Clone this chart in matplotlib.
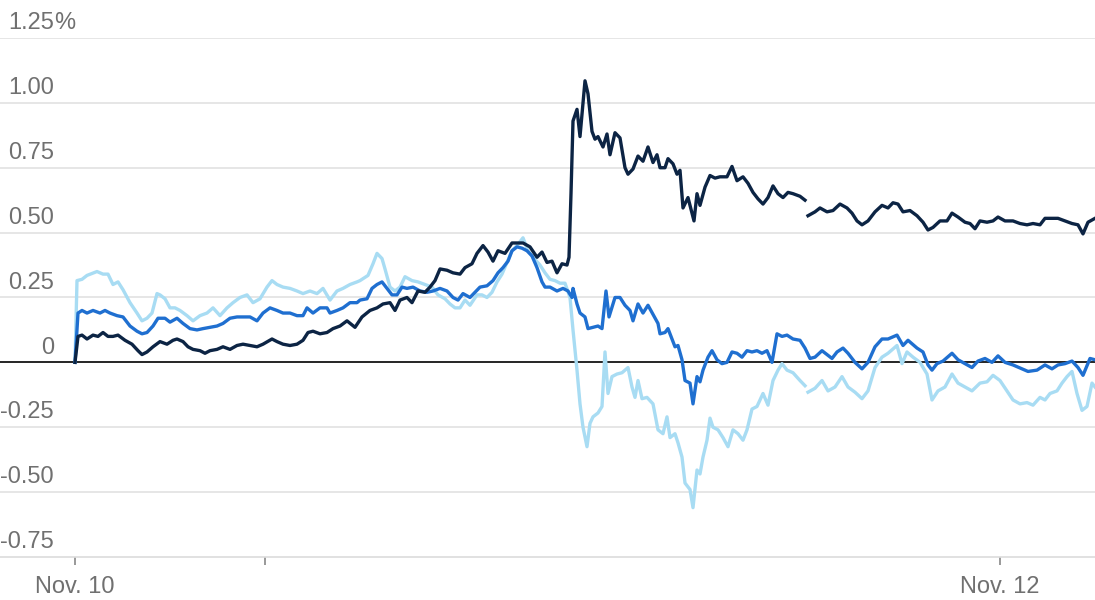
import numpy as np
import matplotlib
matplotlib.use("Agg")
import matplotlib.pyplot as plt

# ---- data (t = trading minutes since Nov. 10 start, values in %) ----
light_t = [0, 2, 7, 12, 22, 28, 33, 38, 43, 48, 55, 62, 67, 72, 77, 82, 85, 90, 95, 100,
           105, 112, 118, 125, 132, 138, 145, 152, 158, 165, 172, 178, 185, 192, 197, 202,
           208, 215, 222, 228, 235, 242, 248, 255, 262, 268, 275, 282, 285, 293, 298, 302,
           307, 310, 315, 320, 325, 330, 337, 343, 350, 357, 363, 370, 375, 380, 385, 390,
           395, 402, 407, 412, 417, 422, 427, 432, 437, 442, 448, 453, 458, 465, 470, 475,
           480, 485, 490, 495, 498, 502, 505, 508, 512, 515, 518, 523, 527, 530, 533, 537,
           542, 547, 553, 557, 560, 563, 567, 572, 578, 583, 588, 592, 595, 600, 603, 607,
           610, 615, 618, 622, 625, 628, 632, 635, 638, 643, 648, 653, 658, 663, 668, 672,
           677, 682, 688, 693, 698, 703, 707, 712, 718, 725, 730, 731, 733, 740, 747, 753,
           760, 767, 773, 780, 787, 793, 800, 807, 813, 822, 827, 832, 838, 845, 852, 857,
           863, 870, 877, 883, 890, 897, 905, 912, 918, 925, 932, 938, 945, 952, 958, 965,
           970, 975, 982, 987, 992, 997, 1002, 1007, 1012, 1017, 1020]
light_v = [0, 0.315, 0.32, 0.335, 0.35, 0.34, 0.34, 0.30, 0.31, 0.28, 0.23, 0.19, 0.16, 0.17,
           0.19, 0.265, 0.26, 0.245, 0.21, 0.21, 0.20, 0.18, 0.16, 0.18, 0.19, 0.21, 0.18,
           0.21, 0.23, 0.25, 0.26, 0.23, 0.245, 0.29, 0.315, 0.30, 0.29, 0.285, 0.275, 0.265,
           0.275, 0.265, 0.285, 0.24, 0.275, 0.285, 0.30, 0.31, 0.315, 0.335, 0.38, 0.42,
           0.40, 0.36, 0.29, 0.275, 0.29, 0.33, 0.315, 0.31, 0.30, 0.29, 0.26, 0.245, 0.225,
           0.21, 0.21, 0.24, 0.22, 0.26, 0.26, 0.25, 0.27, 0.31, 0.34, 0.385, 0.43, 0.45,
           0.48, 0.43, 0.405, 0.375, 0.345, 0.32, 0.315, 0.305, 0.305, 0.25, 0.125, -0.03,
           -0.16, -0.25, -0.325, -0.235, -0.21, -0.195, -0.17, 0.04, -0.12, -0.055, -0.045,
           -0.04, -0.02, -0.095, -0.135, -0.07, -0.14, -0.135, -0.16, -0.26, -0.275, -0.21,
           -0.29, -0.275, -0.31, -0.365, -0.465, -0.49, -0.56, -0.415, -0.43, -0.365, -0.30,
           -0.215, -0.25, -0.26, -0.29, -0.325, -0.26, -0.275, -0.30, -0.26, -0.18, -0.17,
           -0.12, -0.165, -0.07, -0.03, -0.005, -0.03, -0.04, -0.07, -0.09, np.nan, -0.115,
           -0.10, -0.07, -0.11, -0.095, -0.055, -0.095, -0.115, -0.14, -0.11, -0.02, 0.02,
           0.035, 0.065, -0.005, 0.04, 0.02, 0.0, -0.045, -0.145, -0.11, -0.095, -0.045,
           -0.08, -0.095, -0.11, -0.08, -0.075, -0.05, -0.07, -0.11, -0.145, -0.16, -0.155,
           -0.165, -0.135, -0.145, -0.12, -0.11, -0.08, -0.055, -0.035, -0.12, -0.185, -0.17,
           -0.08, -0.095]

blue_t = [0, 3, 7, 12, 18, 25, 30, 35, 42, 48, 55, 62, 67, 72, 78, 83, 90, 95, 102, 108,
          115, 122, 128, 135, 142, 148, 155, 162, 168, 175, 182, 188, 195, 202, 208, 215,
          222, 228, 232, 238, 245, 252, 255, 262, 268, 275, 282, 285, 292, 297, 302, 307,
          312, 317, 322, 327, 332, 338, 345, 352, 358, 365, 372, 378, 383, 388, 395, 400,
          405, 412, 418, 423, 428, 433, 437, 442, 447, 452, 457, 462, 467, 470, 475, 482,
          488, 493, 497, 498, 502, 505, 510, 513, 518, 523, 527, 531, 534, 540, 545, 550,
          555, 558, 563, 568, 573, 578, 583, 585, 590, 593, 597, 600, 603, 607, 610, 615,
          618, 622, 625, 628, 633, 637, 642, 647, 652, 657, 662, 667, 672, 677, 682, 687,
          692, 697, 702, 707, 712, 718, 725, 730, 735, 740, 747, 752, 757, 762, 768, 773,
          780, 787, 793, 800, 807, 813, 822, 828, 833, 842, 848, 853, 857, 862, 868, 877,
          883, 890, 897, 903, 910, 917, 923, 930, 938, 947, 953, 962, 970, 977, 983, 990,
          997, 1003, 1008, 1015, 1020]
blue_v = [0, 0.19, 0.20, 0.19, 0.20, 0.19, 0.20, 0.19, 0.18, 0.175, 0.14, 0.12, 0.11, 0.115,
          0.14, 0.17, 0.17, 0.155, 0.17, 0.15, 0.13, 0.125, 0.13, 0.135, 0.14, 0.15, 0.17,
          0.175, 0.175, 0.175, 0.16, 0.19, 0.21, 0.20, 0.19, 0.19, 0.18, 0.18, 0.21, 0.19,
          0.21, 0.21, 0.19, 0.20, 0.21, 0.23, 0.23, 0.24, 0.245, 0.285, 0.30, 0.31, 0.285,
          0.26, 0.26, 0.29, 0.285, 0.29, 0.275, 0.27, 0.275, 0.285, 0.275, 0.25, 0.24,
          0.265, 0.25, 0.27, 0.29, 0.295, 0.315, 0.345, 0.365, 0.39, 0.43, 0.445, 0.44, 0.43,
          0.41, 0.365, 0.31, 0.29, 0.29, 0.275, 0.285, 0.275, 0.25, 0.285, 0.225, 0.19,
          0.175, 0.13, 0.135, 0.14, 0.13, 0.275, 0.175, 0.25, 0.25, 0.22, 0.20, 0.16, 0.225,
          0.19, 0.22, 0.185, 0.15, 0.11, 0.115, 0.13, 0.09, 0.06, 0.065, 0.01, -0.07, -0.08,
          -0.16, -0.055, -0.075, -0.03, 0.02, 0.045, 0.01, -0.005, 0.0, 0.04, 0.035, 0.02,
          0.045, 0.04, 0.045, 0.035, 0.045, 0.0, 0.11, 0.10, 0.105, 0.09, 0.085, 0.055,
          0.015, 0.02, 0.045, 0.03, 0.015, 0.04, 0.055, 0.035, 0.0, -0.025, 0.0, 0.06, 0.09,
          0.09, 0.105, 0.065, 0.085, 0.055, 0.04, -0.01, -0.03, -0.005, 0.005, 0.035, 0.01,
          -0.005, -0.02, 0.005, 0.015, 0.0, 0.025, 0.0, -0.01, -0.025, -0.035, -0.03, -0.01,
          -0.025, -0.01, -0.005, 0.005, -0.02, -0.05, 0.015, 0.01]

dark_t = [0, 3, 7, 12, 18, 23, 28, 33, 38, 43, 50, 57, 63, 67, 72, 78, 85, 92, 98, 102, 108,
          113, 118, 125, 130, 135, 142, 148, 155, 162, 168, 175, 182, 188, 197, 202, 208,
          215, 222, 228, 233, 238, 245, 252, 258, 265, 272, 280, 287, 295, 302, 308, 315,
          320, 325, 332, 337, 343, 350, 355, 360, 365, 372, 378, 385, 390, 397, 402, 408,
          413, 418, 423, 430, 437, 442, 448, 455, 462, 467, 472, 477, 482, 487, 492, 494,
          496, 498, 502, 505, 510, 513, 517, 520, 523, 528, 532, 535, 540, 545, 550, 553,
          558, 563, 568, 573, 578, 582, 585, 590, 593, 598, 602, 605, 608, 613, 619, 622,
          625, 630, 635, 640, 645, 652, 657, 662, 668, 673, 678, 683, 688, 693, 698, 703,
          708, 713, 718, 725, 730, 731, 733, 740, 745, 752, 758, 765, 772, 777, 782, 787,
          793, 800, 807, 813, 818, 823, 828, 835, 842, 848, 853, 858, 865, 872, 877, 883,
          890, 895, 900, 905, 912, 918, 923, 930, 938, 945, 952, 958, 965, 970, 977, 983,
          990, 997, 1003, 1008, 1013, 1020]
dark_v = [0, 0.10, 0.105, 0.09, 0.105, 0.10, 0.115, 0.10, 0.10, 0.105, 0.085, 0.07, 0.045,
          0.03, 0.04, 0.06, 0.08, 0.07, 0.085, 0.09, 0.08, 0.06, 0.05, 0.045, 0.035, 0.045,
          0.05, 0.06, 0.05, 0.065, 0.07, 0.065, 0.06, 0.07, 0.09, 0.08, 0.07, 0.065, 0.07,
          0.085, 0.115, 0.12, 0.11, 0.115, 0.13, 0.14, 0.16, 0.135, 0.175, 0.20, 0.21, 0.225,
          0.23, 0.20, 0.24, 0.25, 0.23, 0.275, 0.27, 0.29, 0.315, 0.36, 0.355, 0.345, 0.34,
          0.365, 0.38, 0.42, 0.45, 0.425, 0.39, 0.43, 0.42, 0.46, 0.46, 0.46, 0.445, 0.405,
          0.425, 0.385, 0.39, 0.345, 0.38, 0.375, 0.405, 0.65, 0.93, 0.975, 0.87, 1.085,
          1.035, 0.89, 0.86, 0.87, 0.83, 0.88, 0.80, 0.885, 0.865, 0.75, 0.725, 0.745,
          0.795, 0.775, 0.83, 0.77, 0.80, 0.75, 0.75, 0.785, 0.765, 0.725, 0.74, 0.595,
          0.635, 0.545, 0.65, 0.605, 0.675, 0.72, 0.71, 0.715, 0.715, 0.755, 0.70, 0.715,
          0.69, 0.655, 0.63, 0.61, 0.635, 0.68, 0.65, 0.635, 0.655, 0.65, 0.64, 0.625,
          np.nan, 0.565, 0.58, 0.595, 0.58, 0.585, 0.61, 0.595, 0.575, 0.545, 0.53, 0.545,
          0.58, 0.605, 0.595, 0.615, 0.61, 0.58, 0.585, 0.565, 0.54, 0.51, 0.52, 0.545,
          0.545, 0.575, 0.56, 0.54, 0.535, 0.515, 0.545, 0.54, 0.545, 0.56, 0.545, 0.545,
          0.535, 0.53, 0.535, 0.53, 0.555, 0.555, 0.555, 0.545, 0.535, 0.53, 0.495, 0.54,
          0.555]

y_ticks = [1.25, 1.00, 0.75, 0.50, 0.25, 0, -0.25, -0.50, -0.75]
y_labels = ["1.25", "1.00", "0.75", "0.50", "0.25", "0", "-0.25", "-0.50", "-0.75"]
x_ticks = [0, 190, 925]
x_labels = ["Nov. 10", "", "Nov. 12"]

# ---- style ----
plt.rcParams['font.family'] = ['Liberation Sans', 'DejaVu Sans']
c_dark, c_blue, c_light = "#0c2444", "#1f6fd0", "#a8dcf3"
grey_txt = "#707070"

fig = plt.figure(figsize=(10.95, 6.0), dpi=100)
ax = fig.add_axes([0, 0.0717, 1, 0.865])
ax.set_xlim(-75, 1020)
ax.set_ylim(-0.75, 1.25)

for y in y_ticks[:-1]:
    if y != 0:
        ax.axhline(y, color="#e2e2e2", lw=1.2, zorder=1)
ax.axhline(0, color="black", lw=1.2, zorder=2)

ax.plot(light_t, light_v, color=c_light, lw=2.4, zorder=3, solid_joinstyle='round')
ax.plot(blue_t, blue_v, color=c_blue, lw=2.4, zorder=4, solid_joinstyle='round')
ax.plot(dark_t, dark_v, color=c_dark, lw=2.4, zorder=5, solid_joinstyle='round')

for y, lab in zip(y_ticks, y_labels):
    ax.text(0.0493, y + 0.034, lab, transform=ax.get_yaxis_transform(),
            ha="right", va="baseline", fontsize=17, color=grey_txt)
    if y == y_ticks[0]:
        ax.text(0.0493, y + 0.034, "%", transform=ax.get_yaxis_transform(),
                ha="left", va="baseline", fontsize=17, color=grey_txt)

ax.set_yticks([])
ax.set_xticks(x_ticks)
ax.set_xticklabels(x_labels, fontsize=17, color=grey_txt)
ax.tick_params(axis="x", direction="out", length=6, width=1.2, color="#888888", pad=8)

for s in ["top", "right", "left"]:
    ax.spines[s].set_visible(False)
ax.spines["bottom"].set_color("#dcdcdc")
ax.spines["bottom"].set_linewidth(1.2)

fig.savefig("out.png", dpi=100)
